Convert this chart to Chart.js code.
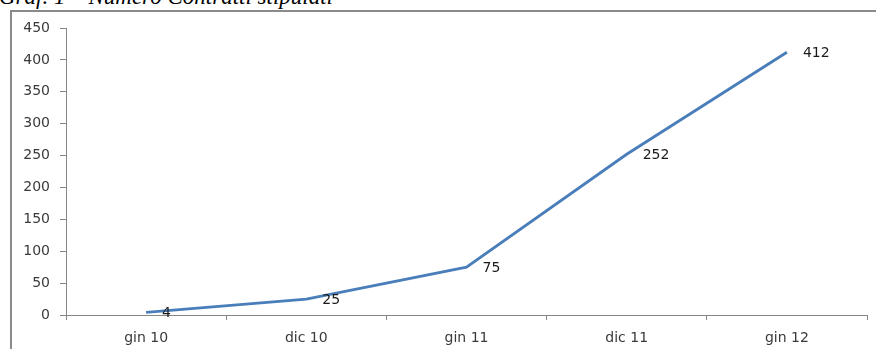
<!DOCTYPE html>
<html>
<head>
<meta charset="utf-8">
<script src="https://cdn.jsdelivr.net/npm/chart.js@4"></script>
<style>
  html, body { margin: 0; padding: 0; background: #fff; overflow: hidden; }
  #wrap { position: relative; width: 876px; height: 349px; overflow: hidden; }
  #caption {
    position: absolute; left: -1px; top: -15px;
    font-family: "Liberation Serif", serif; font-style: italic;
    font-size: 23px; line-height: 23px; color: #000; white-space: nowrap;
  }
  #frame {
    position: absolute; left: 10px; top: 10px; width: 900px; height: 400px;
    border: 2px solid #8a8a8a; box-sizing: border-box;
  }
  #chart { position: absolute; left: 0; top: 0; }
</style>
</head>
<body>
<div id="wrap">
  <div id="caption">Graf. 1 – Numero Contratti stipulati</div>
  <div id="frame"></div>
  <canvas id="chart" width="876" height="349"></canvas>
</div>
<script>
// Semesters and number of contracts signed
const periods = ['gin 10', 'dic 10', 'gin 11', 'dic 11', 'gin 12'];
const contracts = [4, 25, 75, 252, 412];
const yMin = 0;
const yMax = 450;
const yStep = 50;

const axisGrey = '#868686';
const textColor = '#3a3a3a';
const labelFont = { family: 'DejaVu Sans', size: 14 };

// Writes each value just to the right of its point
const valueLabels = {
  id: 'valueLabels',
  afterDatasetsDraw(chart) {
    const ctx = chart.ctx;
    const meta = chart.getDatasetMeta(0);
    ctx.save();
    ctx.font = `${labelFont.size}px "${labelFont.family}"`;
    ctx.fillStyle = '#1a1a1a';
    ctx.textAlign = 'left';
    ctx.textBaseline = 'middle';
    meta.data.forEach((pt, i) => {
      ctx.fillText(String(chart.data.datasets[0].data[i]), pt.x + 16, pt.y + 1);
    });
    ctx.restore();
  }
};

new Chart(document.getElementById('chart'), {
  type: 'line',
  data: {
    labels: periods,
    datasets: [{
      data: contracts,
      borderColor: '#4A7EBB',
      borderWidth: 2.8,
      pointRadius: 0,
      tension: 0,
      fill: false
    }]
  },
  options: {
    responsive: false,
    animation: false,
    layout: { padding: { top: 28, right: 9, left: 0, bottom: 0 } },
    plugins: { legend: { display: false }, tooltip: { enabled: false } },
    scales: {
      x: {
        offset: true,
        border: { display: true, color: axisGrey, width: 1 },
        grid: { offset: true, drawOnChartArea: false, drawTicks: true, tickLength: 5, color: axisGrey },
        ticks: { color: textColor, font: labelFont, padding: 10, maxRotation: 0 },
        afterFit(scale) { scale.height = 34; }
      },
      y: {
        min: yMin,
        max: yMax,
        border: { display: true, color: axisGrey, width: 1 },
        grid: { drawOnChartArea: false, drawTicks: true, tickLength: 6, color: axisGrey },
        ticks: { stepSize: yStep, color: textColor, font: labelFont, padding: 10 },
        afterFit(scale) { scale.width = 66; }
      }
    }
  },
  plugins: [valueLabels]
});
</script>
</body>
</html>
